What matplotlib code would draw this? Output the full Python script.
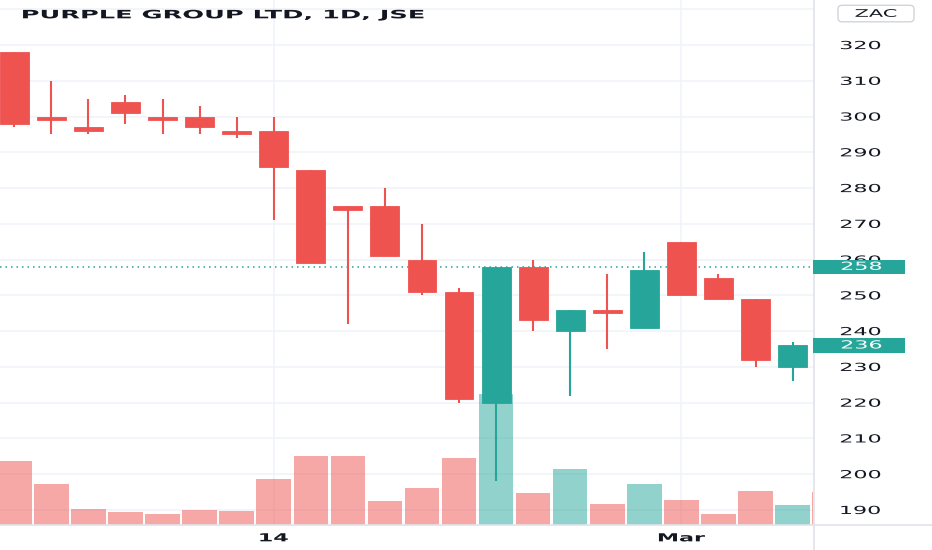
import matplotlib
matplotlib.use("Agg")
import matplotlib.pyplot as plt
from matplotlib.patches import Rectangle, FancyBboxPatch
from matplotlib.patheffects import AbstractPathEffect
from matplotlib.transforms import Affine2D, IdentityTransform, blended_transform_factory
from matplotlib.lines import Line2D

# ---------------- data ----------------
title = "PURPLE GROUP LTD, 1D, JSE"
currency = "ZAC"
dates = ["2022-02-03", "2022-02-04", "2022-02-07", "2022-02-08", "2022-02-09",
         "2022-02-10", "2022-02-11", "2022-02-14", "2022-02-15", "2022-02-16",
         "2022-02-17", "2022-02-18", "2022-02-21", "2022-02-22", "2022-02-23",
         "2022-02-24", "2022-02-25", "2022-02-28", "2022-03-01", "2022-03-02",
         "2022-03-03", "2022-03-04", "2022-03-07"]
opens  = [318, 300, 297, 304, 300, 300, 296, 296, 285, 275, 275, 260, 251, 220, 258, 240, 246, 241, 265, 255, 249, 230]
highs  = [318, 310, 305, 306, 305, 303, 300, 300, 285, 275, 280, 270, 252, 258, 260, 246, 256, 262, 265, 256, 249, 237]
lows   = [297, 295, 295, 298, 295, 295, 294, 271, 259, 242, 261, 250, 220, 198, 240, 222, 235, 241, 250, 249, 230, 226]
closes = [298, 299, 296, 301, 299, 297, 295, 286, 259, 274, 261, 251, 221, 258, 243, 246, 245, 257, 250, 249, 232, 236]
volumes = [64, 41, 16, 13, 11, 15, 14, 46, 69, 69, 24, 37, 67, 131, 32, 56, 21, 41, 25, 11, 34, 20, 33]  # thousands
volume_up = [False, False, False, False, False, False, False, False, False, False, False, False,
             False, True, False, True, False, True, False, False, False, True, False]
tick_dates = ["2022-02-14", "2022-03-01"]
tick_labels = ["14", "Mar"]
price_ticks = [190, 200, 210, 220, 230, 240, 250, 260, 270, 280, 290, 300, 310, 320, 330]
price_line = 258
last_price = closes[-1]

# ---------------- style ----------------
UP, DOWN = "#26A69A", "#EF5350"
GRID = "#F0F3FA"
TXT = "#131722"
SEP = "#E0E3EB"
W, H = 932, 550


class Stretch(AbstractPathEffect):
    """Draw text glyphs horizontally widened (text stays a Text artist)."""
    def __init__(self, sx, anchor="left"):
        super().__init__()
        self.sx = sx
        self.anchor = anchor

    def draw_path(self, renderer, gc, tpath, affine, rgbFace=None):
        ext = tpath.get_extents()
        if self.anchor == "center":
            cx = (ext.x0 + ext.x1) / 2
        elif self.anchor == "right":
            cx = ext.x1
        else:
            cx = ext.x0
        t = Affine2D().translate(-cx, 0).scale(self.sx, 1).translate(cx, 0) + affine
        renderer.draw_path(gc, tpath, t, rgbFace)


SX = 2.0

fig = plt.figure(figsize=(W / 100, H / 100), dpi=100)
fig.patch.set_facecolor("white")
ax = fig.add_axes([0, 25 / H, 813 / W, 525 / H])

n = len(opens)
xs = list(range(len(volumes)))
xlim = (-0.385, 21.55)
ax.set_xlim(*xlim)
ax.set_ylim(185.8, 332.6)

# volume: x in data, y scaled so the largest bar fills ~25% of the pane
vol_top = max(volumes) * 525 / 131
vol_tr = blended_transform_factory(ax.transData, Affine2D().scale(1, 1 / vol_top) + ax.transAxes)
for x, v, up in zip(xs, volumes, volume_up):
    col = UP if up else DOWN
    ax.add_patch(Rectangle((x - 0.465, 0), 0.93, v, transform=vol_tr, facecolor=col,
                           alpha=0.5, edgecolor="none", zorder=1))

# candles
for i in range(n):
    o, h, l, c = opens[i], highs[i], lows[i], closes[i]
    col = UP if c >= o else DOWN
    ax.vlines(i, l, h, color=col, lw=1.5, zorder=3)
    ax.add_patch(Rectangle((i - 0.39, min(o, c)), 0.78, abs(c - o), facecolor=col,
                           edgecolor=col, lw=0.6, zorder=4))

ax.axhline(price_line, color=UP, lw=1.1, linestyle=(0, (1, 2.6)), zorder=2)

ax.yaxis.tick_right()
ax.set_yticks(price_ticks)
ax.set_yticklabels([str(p) if p <= 320 else "" for p in price_ticks])
ax.set_xticks([dates.index(d) for d in tick_dates])
ax.set_xticklabels(tick_labels)
ax.tick_params(axis="y", length=0, pad=19.5, labelsize=8, labelcolor=TXT)
ax.tick_params(axis="x", length=0, pad=6, labelsize=8, labelcolor=TXT)
ax.grid(True, color=GRID, lw=1.2)
ax.set_axisbelow(True)
for s in ax.spines.values():
    s.set_visible(False)

for t in ax.yaxis.get_major_ticks():
    t.label2.set_path_effects([Stretch(SX, "left")])
for t in ax.xaxis.get_major_ticks():
    t.label1.set_path_effects([Stretch(SX, "center")])
    t.label1.set_fontweight("bold")

# separators
fig.add_artist(Line2D([0, 1], [25 / H, 25 / H], color=SEP, lw=1.2, transform=fig.transFigure))
fig.add_artist(Line2D([813.5 / W, 813.5 / W], [0, 1], color=SEP, lw=1.2, transform=fig.transFigure))

# title
tt = fig.text(22 / W, 1 - 18.3 / H, title, ha="left", va="baseline", fontsize=8.3,
              fontweight="bold", color=TXT)
r = fig.canvas.get_renderer()
tw = tt.get_window_extent(r).width
tt.set_path_effects([Stretch(402 / tw, "left")])

# currency box
fig.add_artist(FancyBboxPatch((838, H - 21.8), 76, 16.5,
                              boxstyle="round,pad=0,rounding_size=4",
                              facecolor="white", edgecolor="#D1D4DC", lw=1,
                              transform=IdentityTransform()))
ct = fig.text(876 / W, 1 - 13.8 / H, currency, ha="center", va="center", fontsize=7.5,
              color=TXT)
ct.set_path_effects([Stretch(SX, "center")])

# price labels
bt = blended_transform_factory(IdentityTransform(), ax.transData)
for val in [price_line, last_price]:
    fig.add_artist(Rectangle((813, val - 2.0), 91.5, 4.0, facecolor=UP, edgecolor="none",
                             transform=bt, zorder=5))
    pt = fig.text(841, val, str(val), ha="left", va="center", fontsize=8, color="white",
                  transform=bt, zorder=6)
    pt.set_path_effects([Stretch(SX, "left")])

fig.savefig("out.png", dpi=100, facecolor="white")
